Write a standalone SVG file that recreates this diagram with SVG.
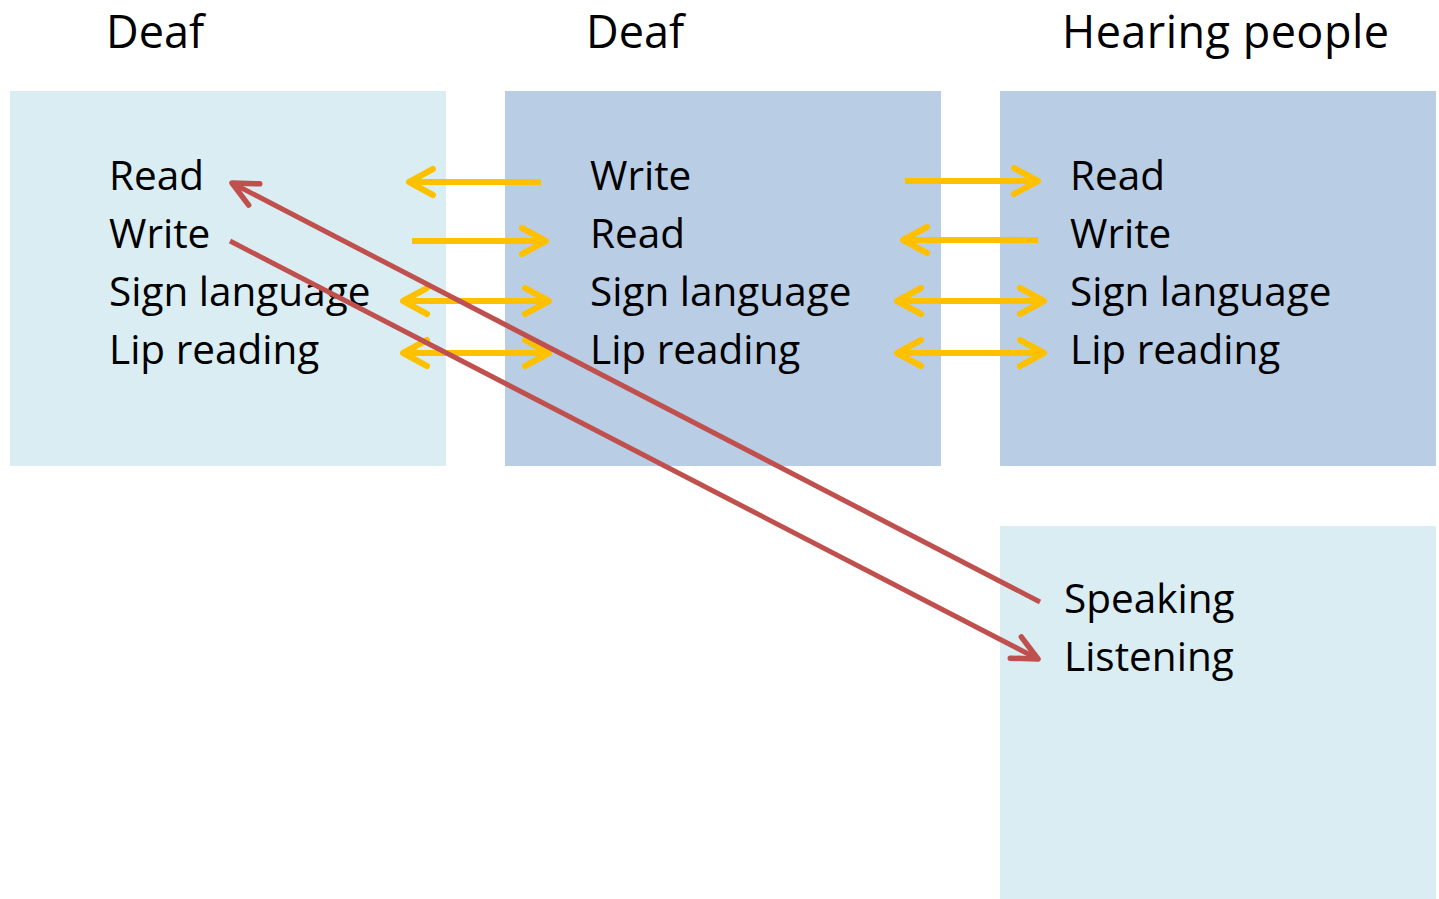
<svg xmlns="http://www.w3.org/2000/svg" width="1439" height="899" viewBox="0 0 1439 899">
<style>
.t{font-family:"Open Sans","Liberation Sans",sans-serif;font-size:40.5px;fill:#000}
.h{font-family:"Open Sans","Liberation Sans",sans-serif;font-size:45px;fill:#000}
.light{fill:#DAEDF3}
.dark{fill:#B9CDE5}
.y{stroke:#FFC000;stroke-width:6;fill:none;marker-end:url(#ya)}
.yy{stroke:#FFC000;stroke-width:6;fill:none;marker-end:url(#ya);marker-start:url(#ya)}
.r{stroke:#C0504D;stroke-width:5;fill:none;marker-end:url(#ra)}
</style>
<defs>
<marker id="ya" markerUnits="userSpaceOnUse" markerWidth="40" markerHeight="40" viewBox="-30 -20 40 40" refX="0" refY="0" orient="auto-start-reverse">
<path d="M-24,-13 L0,0 L-24,13" fill="none" stroke="#FFC000" stroke-width="6" stroke-linecap="round" stroke-linejoin="round"/>
</marker>
<marker id="ra" markerUnits="userSpaceOnUse" markerWidth="40" markerHeight="40" viewBox="-30 -20 40 40" refX="0" refY="0" orient="auto">
<path d="M-25,-12 L0,0 L-25,12" fill="none" stroke="#C0504D" stroke-width="5.5" stroke-linecap="round" stroke-linejoin="round"/>
</marker>
</defs>
<rect width="1439" height="899" fill="#fff"/>
<g id="titles">
<text class="h" x="106" y="48">Deaf</text>
<text class="h" x="586" y="48">Deaf</text>
<text class="h" x="1062" y="48" textLength="327">Hearing people</text>
</g>
<g id="deaf1">
<rect class="light" x="10" y="91" width="436" height="375"/>
<text class="t" x="109" y="190">Read</text>
<text class="t" x="109" y="248">Write</text>
<text class="t" x="109" y="306">Sign language</text>
<text class="t" x="109" y="364">Lip reading</text>
</g>
<g id="deaf2">
<rect class="dark" x="505" y="91" width="436" height="375"/>
<text class="t" x="590" y="190">Write</text>
<text class="t" x="590" y="248">Read</text>
<text class="t" x="590" y="306">Sign language</text>
<text class="t" x="590" y="364">Lip reading</text>
</g>
<g id="hearing">
<rect class="dark" x="1000" y="91" width="436" height="375"/>
<text class="t" x="1070" y="190">Read</text>
<text class="t" x="1070" y="248">Write</text>
<text class="t" x="1070" y="306">Sign language</text>
<text class="t" x="1070" y="364">Lip reading</text>
</g>
<g id="hearing2">
<rect class="light" x="1000" y="526" width="436" height="373"/>
<text class="t" x="1064" y="613">Speaking</text>
<text class="t" x="1064" y="671">Listening</text>
</g>
<g id="connectors">
<line class="y" x1="541" y1="182" x2="409" y2="182"/>
<line class="y" x1="412" y1="241" x2="546" y2="241"/>
<line class="yy" x1="403" y1="301" x2="549" y2="301"/>
<line class="yy" x1="403" y1="353" x2="549" y2="353"/>
<line class="y" x1="905" y1="181" x2="1038" y2="181"/>
<line class="y" x1="1038" y1="240" x2="903" y2="240"/>
<line class="yy" x1="897" y1="301" x2="1044" y2="301"/>
<line class="yy" x1="897" y1="353" x2="1044" y2="353"/>
<line class="r" x1="1040" y1="602" x2="232" y2="183"/>
<line class="r" x1="230" y1="241" x2="1038" y2="659"/>
</g>
</svg>
